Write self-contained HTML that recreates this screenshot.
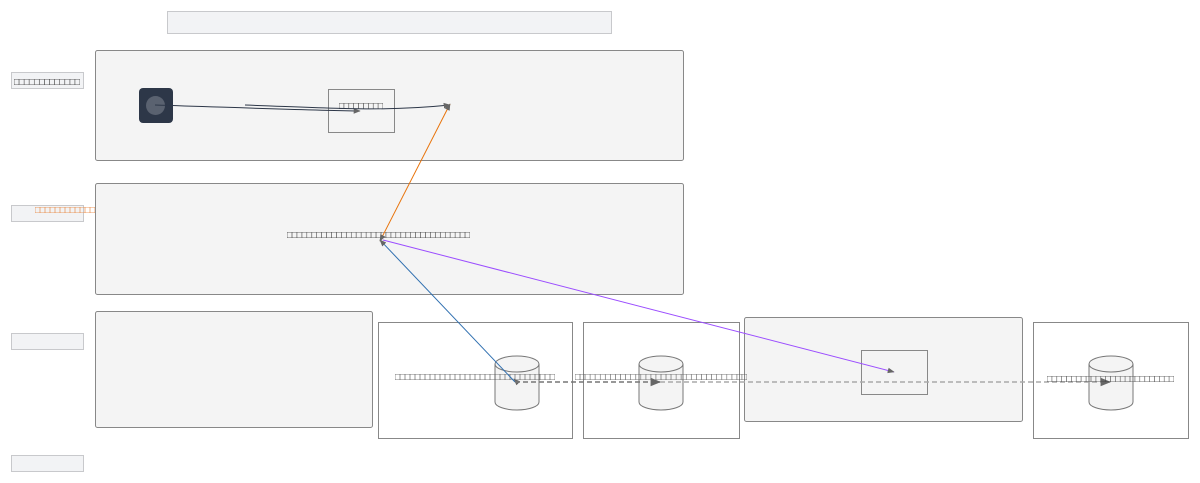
<!DOCTYPE html>
<html><head><meta charset="utf-8"><style>
html,body{margin:0;padding:0;background:#fff;width:1200px;height:483px;overflow:hidden}
svg{display:block}
text{font-family:"Liberation Sans","Noto Sans CJK SC",sans-serif;font-size:10px;fill:#333}
</style></head><body>
<svg width="1200" height="483" viewBox="0 0 1200 483" xmlns="http://www.w3.org/2000/svg">
<defs>
<marker id="a" viewBox="0 0 10 10" refX="9" refY="5" markerWidth="7" markerHeight="7" orient="auto-start-reverse"><path d="M0,1 L10,5 L0,9 z" fill="#666"/></marker>
</defs>
<rect x="167.5" y="11.5" width="444" height="22" fill="#f2f3f5" stroke="#c8c9cc"/>
<rect x="11.5" y="72.5" width="72" height="16" fill="#f2f3f5" stroke="#c8c9cc"/>
<text x="14" y="85" textLength="66" lengthAdjust="spacingAndGlyphs">□□□□□□□□□□□□□</text>
<rect x="11.5" y="205.5" width="72" height="16" fill="#f2f3f5" stroke="#c8c9cc"/>
<rect x="11.5" y="333.5" width="72" height="16" fill="#f2f3f5" stroke="#c8c9cc"/>
<rect x="11.5" y="455.5" width="72" height="16" fill="#f2f3f5" stroke="#c8c9cc"/>
<rect x="95.5" y="50.5" width="588" height="110" rx="2" fill="#f4f4f4" stroke="#888"/>
<rect x="95.5" y="183.5" width="588" height="111" rx="2" fill="#f4f4f4" stroke="#888"/>
<rect x="95.5" y="311.5" width="277" height="116" rx="2" fill="#f4f4f4" stroke="#888"/>
<text x="35" y="213" textLength="60" lengthAdjust="spacingAndGlyphs" style="fill:#e8823a">□□□□□□□□□□□□</text>
<rect x="378.5" y="322.5" width="194" height="116" fill="#fff" stroke="#888"/>
<rect x="583.5" y="322.5" width="156" height="116" fill="#fff" stroke="#888"/>
<rect x="744.5" y="317.5" width="278" height="104" rx="2" fill="#f4f4f4" stroke="#888"/>
<rect x="1033.5" y="322.5" width="155" height="116" fill="#fff" stroke="#888"/>
<rect x="861.5" y="350.5" width="66" height="44" fill="#f4f4f4" stroke="#888"/>
<rect x="139" y="88" width="34" height="35" rx="4" fill="#2d3748"/>
<circle cx="155.5" cy="105.5" r="9.5" fill="#5a6270"/>
<rect x="328.5" y="89.5" width="66" height="43" fill="#f4f4f4" stroke="#888"/>
<text x="339" y="109" textLength="44" lengthAdjust="spacingAndGlyphs">□□□□□□□□□</text>
<text x="287" y="238" textLength="183" lengthAdjust="spacingAndGlyphs">□□□□□□□□□□□□□□□□□□□□□□□□□□□□□□□□□□□□□</text>
<g fill="#f4f4f4" stroke="#777">
<path d="M495,364 L495,402 A22,8 0 0 0 539,402 L539,364"/>
<ellipse cx="517" cy="364" rx="22" ry="8"/>
<path d="M639,364 L639,402 A22,8 0 0 0 683,402 L683,364"/>
<ellipse cx="661" cy="364" rx="22" ry="8"/>
<path d="M1089,364 L1089,402 A22,8 0 0 0 1133,402 L1133,364"/>
<ellipse cx="1111" cy="364" rx="22" ry="8"/>
</g>
<text x="395" y="380" textLength="160" lengthAdjust="spacingAndGlyphs" style="fill:#555">□□□□□□□□□□□□□□□□□□□□□□□□□□□□□□□□</text>
<text x="575" y="380" textLength="172" lengthAdjust="spacingAndGlyphs" style="fill:#555">□□□□□□□□□□□□□□□□□□□□□□□□□□□□□□□□□□</text>
<path d="M155,105 C250,108 300,110 360,111" fill="none" stroke="#2d3748" marker-end="url(#a)"/>
<path d="M245,105 C330,108 380,112 450,105" fill="none" stroke="#2d3748" marker-end="url(#a)"/>
<line x1="380" y1="241" x2="450" y2="104" stroke="#e8730a" marker-start="url(#a)" marker-end="url(#a)"/>
<line x1="515" y1="382" x2="380" y2="240" stroke="#2f6fb0" marker-end="url(#a)"/>
<line x1="517" y1="382" x2="514" y2="379" stroke="#2f6fb0" marker-end="url(#a)"/>
<line x1="383" y1="240" x2="894" y2="372" stroke="#9b4dff" marker-end="url(#a)"/>
<line x1="515" y1="382" x2="660" y2="382" stroke="#777" stroke-width="1.5" stroke-dasharray="5,3" marker-end="url(#a)"/>
<line x1="660" y1="382" x2="1110" y2="382" stroke="#aaa" stroke-width="1.5" stroke-dasharray="5,3" marker-end="url(#a)"/>
<text x="1047" y="382" textLength="127" lengthAdjust="spacingAndGlyphs" style="fill:#444">□□□□□□□□□□□□□□□□□□□□□□□□□□</text>
</svg>
</body></html>
